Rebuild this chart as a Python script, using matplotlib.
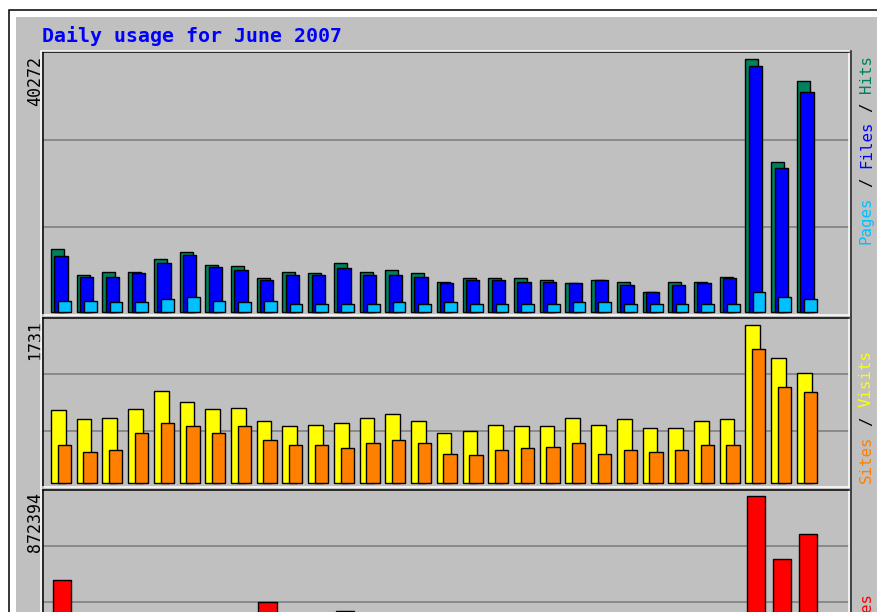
import numpy as np
import matplotlib
matplotlib.use('Agg')
import matplotlib.pyplot as plt
from matplotlib.patches import Rectangle
from matplotlib.lines import Line2D

# data (June 2007)
days = list(range(1, 31))
hits = [10000, 5900, 6400, 6400, 8400, 9550, 7450, 7300, 5400, 6400,
        6200, 7800, 6400, 6700, 6200, 4800, 5400, 5400, 5400, 5100,
        4600, 5100, 4800, 3200, 4800, 4800, 5600, 40272, 23900, 36800]
files = [8900, 5600, 5600, 6200, 7800, 9050, 7200, 6700, 5100, 5900,
         5900, 7000, 5900, 5900, 5600, 4600, 5100, 5100, 4800, 4800,
         4600, 5100, 4300, 3200, 4300, 4600, 5400, 39200, 22900, 35000]
pages = [1750, 1750, 1600, 1600, 2050, 2400, 1750, 1600, 1750, 1300,
         1300, 1300, 1300, 1600, 1300, 1600, 1300, 1300, 1300, 1300,
         1600, 1600, 1300, 1300, 1300, 1300, 1300, 3200, 2400, 2100]
visits = [798, 700, 717, 809, 1003, 886, 809, 827, 681, 622,
          640, 659, 717, 754, 681, 549, 568, 640, 622, 622,
          717, 640, 700, 604, 604, 681, 700, 1731, 1373, 1208]
sites = [417, 340, 359, 549, 659, 622, 549, 622, 476, 417,
         417, 381, 436, 476, 436, 322, 304, 359, 381, 399,
         436, 322, 359, 340, 359, 417, 417, 1464, 1054, 999]
kbytes = [408600, 175000, 190000, 185000, 215000, 220000, 200000, 195000, 285000, 170000,
          165000, 239000, 180000, 190000, 175000, 150000, 160000, 165000, 160000, 155000,
          150000, 160000, 145000, 120000, 140000, 145000, 170000, 872394, 523000, 662500]

max_labels = ['40272', '1731', '872394']

GREY = '#C0C0C0'
DKGREY = '#808080'
C_HIT, C_FILE, C_PAGE = '#00805C', '#0000FF', '#00C0FF'
C_VISIT, C_SITE, C_KB = '#FFFF00', '#FF8000', '#FF0000'

W, H = 878, 612
fig = plt.figure(figsize=(W / 100, H / 100), dpi=100)
fig.patch.set_facecolor('white')


def fx(x):
    return x / W


def fy(y):
    return 1 - y / H


def box(x0, y0, x1, y1):
    return [fx(x0), fy(y1), fx(x1) - fx(x0), fy(y0) - fy(y1)]


# outer frame: black line, white band, grey fill (behind the axes)
fig.add_artist(Rectangle((fx(9.5), fy(900)), fx(1200), fy(10.5) - fy(900),
                         transform=fig.transFigure, facecolor='white',
                         edgecolor='black', lw=1.1, zorder=-10))
fig.add_artist(Rectangle((fx(16), fy(900)), fx(1200), fy(17) - fy(900),
                         transform=fig.transFigure, facecolor=GREY,
                         edgecolor='none', zorder=-9))

fig.text(fx(42), fy(41.5), 'Daily usage for June 2007', color='#0000FF',
         family='DejaVu Sans Mono', weight='bold', fontsize=14.3,
         ha='left', va='baseline')

px_day = 25.72  # pixels between day groups
x_lo = 1 + (43 - 51) / px_day
x_hi = 1 + (849 - 51) / px_day
d = np.array(days, dtype=float)


def make_panel(y0, y1, base, vmax, top_px):
    ax = fig.add_axes(box(43, y0, 849, y1))
    ax.set_facecolor(GREY)
    scale = vmax / (base - top_px)
    ax.set_ylim(-(y1 - base) * scale, (base - y0) * scale)
    ax.set_xlim(x_lo, x_hi)
    ax.set_xticks([])
    ax.set_yticks([])
    for f in (1 / 3, 2 / 3):
        ax.plot([0, 1], [f, f], transform=ax.transAxes, color=DKGREY, lw=1.2, zorder=1)
    ax.spines['top'].set_color('black')
    ax.spines['left'].set_color('black')
    ax.spines['bottom'].set_color('white')
    ax.spines['right'].set_color('white')
    for s in ax.spines.values():
        s.set_linewidth(1.1)
        s.set_zorder(5)
    return ax


bar_kw = dict(align='edge', edgecolor='black', linewidth=1.0, zorder=3)

ax1 = make_panel(52, 315, 312, 40272, 59)
ax1.bar(d, hits, width=13 / px_day, color=C_HIT, **bar_kw)
ax1.bar(d + 3.4 / px_day, files, width=13.3 / px_day, color=C_FILE, **bar_kw)
ax1.bar(d + 7.3 / px_day, pages, width=12.7 / px_day, color=C_PAGE, **bar_kw)

ax2 = make_panel(318, 487, 483, 1731, 325)
ax2.bar(d, visits, width=14.7 / px_day, color=C_VISIT, **bar_kw)
ax2.bar(d + 6.7 / px_day, sites, width=13.3 / px_day, color=C_SITE, **bar_kw)

ax3 = make_panel(490, 658, 654, 872394, 496)
ax3.bar(d + 1.7 / px_day, kbytes, width=18.3 / px_day, color=C_KB, **bar_kw)

# highlight lines round the graph area and dark line on the right
fig.add_artist(Line2D([fx(41), fx(41), fx(849)], [fy(900), fy(50.5), fy(50.5)],
                      transform=fig.transFigure, color='white', lw=1.1, zorder=10))
fig.add_artist(Line2D([fx(851), fx(851)], [fy(51), fy(900)],
                      transform=fig.transFigure, color='#202020', lw=1.1, zorder=10))

# max values on the left
for lab, ytop in zip(max_labels, [56.5, 320, 492]):
    fig.text(fx(35), fy(ytop), lab, rotation=90, ha='center', va='top',
             family='DejaVu Sans Mono', fontsize=12, color='black')

# coloured legends on the right, read bottom to top
adv = 9.45
right_labels = [
    (244, [('Pages', 0, C_PAGE), ('/', 6, 'black'), ('Files', 8, C_FILE),
           ('/', 14, 'black'), ('Hits', 16, C_HIT)]),
    (483, [('Sites', 0, C_SITE), ('/', 6, 'black'), ('Visits', 8, C_VISIT)]),
    (649.7, [('KBytes', 0, C_KB)]),
]
for ystart, parts in right_labels:
    for txt, idx, col in parts:
        fig.text(fx(866.5), fy(ystart - idx * adv), txt, rotation=90,
                 rotation_mode='anchor', ha='left', va='center',
                 family='DejaVu Sans Mono', fontsize=11.3, color=col)

fig.savefig('out.png', dpi=100)
